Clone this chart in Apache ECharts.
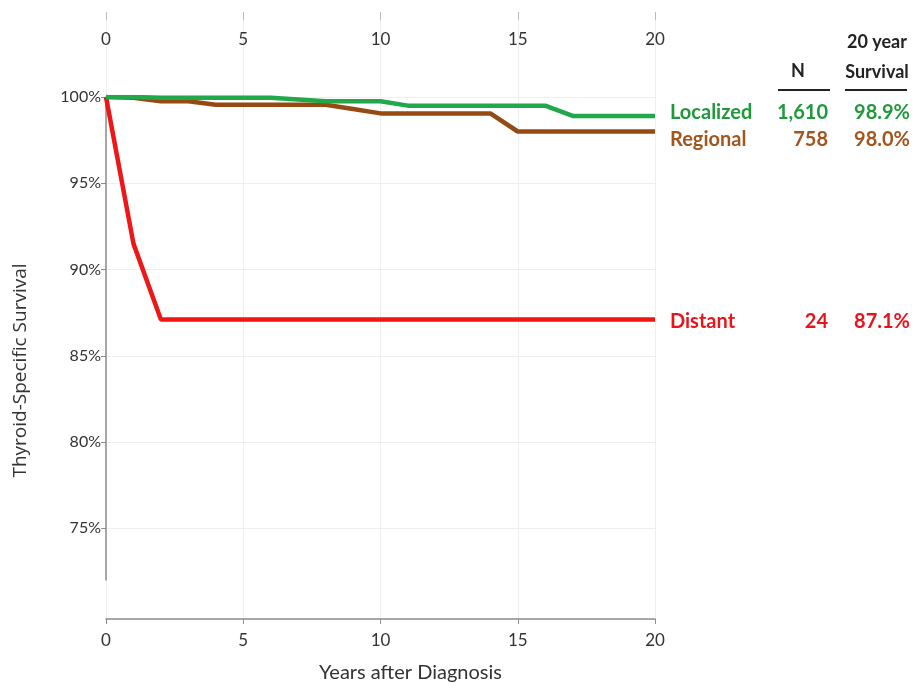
<!DOCTYPE html>
<html>
<head>
<meta charset="utf-8">
<script src="https://cdn.jsdelivr.net/npm/echarts@6/dist/echarts.min.js"></script>
<style>html,body{margin:0;padding:0;background:#fff}#c{width:918px;height:689px}</style>
</head>
<body>
<div id="c"></div>
<script>
var years = [0,1,2,3,4,5,6,7,8,9,10,11,12,13,14,15,16,17,18,19,20];
var localized = [100,100,99.95,99.95,99.95,99.95,99.95,99.85,99.75,99.75,99.75,99.5,99.5,99.5,99.5,99.5,99.5,98.9,98.9,98.9,98.9];
var regional = [100,99.95,99.75,99.75,99.55,99.55,99.55,99.55,99.55,99.3,99.05,99.05,99.05,99.05,99.05,98.0,98.0,98.0,98.0,98.0,98.0];
var distant = [100,91.5,87.1,87.1,87.1,87.1,87.1,87.1,87.1,87.1,87.1,87.1,87.1,87.1,87.1,87.1,87.1,87.1,87.1,87.1,87.1];
var groupNames = ['Localized','Regional','Distant'];
var groupN = ['1,610','758','24'];
var groupSurv = ['98.9%','98.0%','87.1%'];
var yTicks = [75,80,85,90,95,100];
var xTicks = [0,5,10,15,20];

var FONT = 'Lato, "Open Sans", sans-serif';
var lineColors = ['#21a84b','#964a12','#ee1616'];
var textColors = ['#1f9a3a','#a2561e','#e8141c'];
var labelOffsets = [[0,-3],[0,8],[0,2]];

function pairs(arr){ return years.map(function(y,i){ return [y, arr[i]]; }); }

var allValues = [localized, regional, distant];
var series = allValues.map(function(vals, k){
  return {
    type:'line', xAxisIndex:0, yAxisIndex:0,
    data: pairs(vals), showSymbol:false, symbol:'none',
    lineStyle:{width:4.5, color:lineColors[k]},
    z: 3 - k,
    endLabel:{
      show:true, distance:15, offset:labelOffsets[k],
      formatter: function(){ return '{a|'+groupNames[k]+'}{b|'+groupN[k]+'}{c|'+groupSurv[k]+'}'; },
      rich:{
        a:{width:108, align:'left', fontSize:20, fontWeight:'bold', color:textColors[k], fontFamily:FONT},
        b:{width:50, align:'right', fontSize:20, fontWeight:'bold', color:textColors[k], fontFamily:FONT},
        c:{width:82, align:'right', fontSize:20, fontWeight:'bold', color:textColors[k], fontFamily:FONT}
      }
    }
  };
});

var chart = echarts.init(document.getElementById('c'));
chart.setOption({
  animation:false,
  backgroundColor:'#fff',
  textStyle:{fontFamily:FONT},
  grid:[
    {left:106, right:263, top:97, bottom:109, containLabel:false, outerBoundsMode:'none'},
    {left:106, right:263, top:20, bottom:70, containLabel:false, outerBoundsMode:'none'}
  ],
  xAxis:[
    {type:'value', gridIndex:0, min:0, max:20, show:false},
    {type:'value', gridIndex:1, min:0, max:20, interval:5, position:'bottom',
     axisLine:{show:true, lineStyle:{color:'#8c8c8c', width:1.5}},
     axisTick:{show:true, length:5, lineStyle:{color:'#8c8c8c'}},
     axisLabel:{fontSize:17, color:'#333', margin:13, fontFamily:FONT},
     splitLine:{show:true, lineStyle:{color:'#eeeeee', width:1}},
     name:'Years after Diagnosis', nameLocation:'middle', nameGap:44,
     nameTextStyle:{fontSize:20, color:'#333', fontFamily:FONT, padding:[0,0,0,60]}
    },
    {type:'value', gridIndex:1, min:0, max:20, interval:5, position:'top',
     axisLine:{show:false},
     axisTick:{show:true, length:8, lineStyle:{color:'#bbbbbb'}},
     axisLabel:{inside:true, fontSize:17, color:'#333', margin:11, fontFamily:FONT},
     splitLine:{show:false}
    }
  ],
  yAxis:[
    {type:'value', gridIndex:0, min:72, max:100,
     axisLine:{show:true, lineStyle:{color:'#8c8c8c', width:1.5}},
     axisTick:{show:true, length:5, customValues:yTicks, lineStyle:{color:'#8c8c8c'}},
     axisLabel:{customValues:yTicks, fontSize:16, color:'#333', margin:5, fontFamily:FONT,
       formatter:function(v){ return v + '%'; }},
     splitLine:{show:true, lineStyle:{color:'#eeeeee', width:1}},
     name:'Thyroid-Specific Survival', nameLocation:'middle', nameGap:76,
     nameTextStyle:{fontSize:19, color:'#333', fontFamily:'"Open Sans", sans-serif', padding:[0,64,0,0]}
    },
    {type:'value', gridIndex:1, min:0, max:1, show:false}
  ],
  graphic:[
    {type:'text', x:798, y:71, style:{text:'N', fill:'#222', font:'bold 18px '+FONT, align:'center', verticalAlign:'middle'}},
    {type:'text', x:877, y:42, style:{text:'20 year', fill:'#222', font:'bold 18px '+FONT, align:'center', verticalAlign:'middle'}},
    {type:'text', x:877, y:72, style:{text:'Survival', fill:'#222', font:'bold 18px '+FONT, align:'center', verticalAlign:'middle'}},
    {type:'line', shape:{x1:778, y1:90, x2:830, y2:90}, style:{stroke:'#222', lineWidth:2}},
    {type:'line', shape:{x1:845, y1:90, x2:907, y2:90}, style:{stroke:'#222', lineWidth:2}}
  ],
  series: series
});
</script>
</body>
</html>
